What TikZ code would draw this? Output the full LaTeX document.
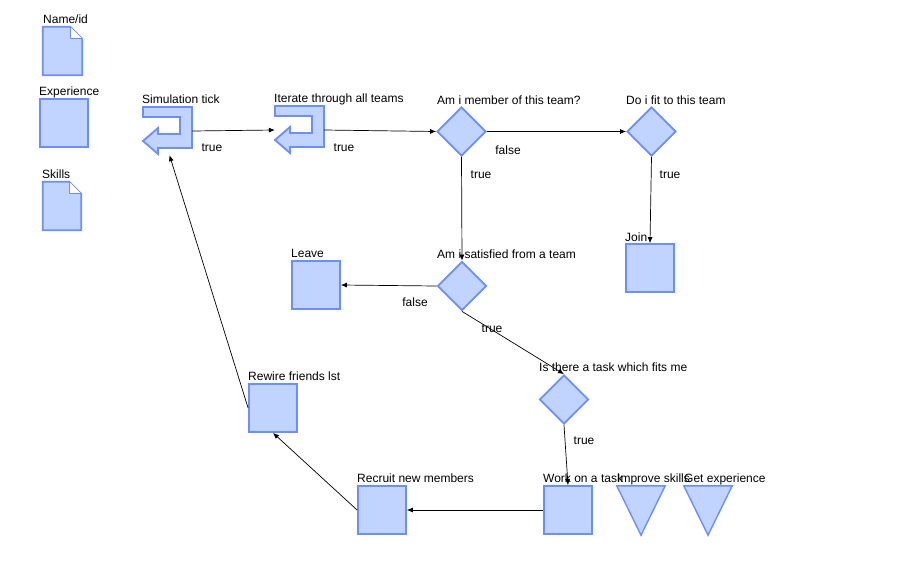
\documentclass[tikz,border=0pt]{standalone}
\usepackage{fontspec}
\setmainfont{Liberation Sans}
\usetikzlibrary{shapes.geometric,arrows.meta}
\definecolor{shfill}{RGB}{193,212,255}
\definecolor{shline}{RGB}{108,142,255}
\begin{document}
\begin{tikzpicture}[x=1pt,y=-1pt,
  font=\fontsize{12}{14}\selectfont,
  shapebase/.style={fill=shfill,draw=shline,line width=1.8pt,line join=miter},
  sqbox/.style={shapebase,rectangle,minimum width=48pt,minimum height=48pt,inner sep=0pt},
  dmd/.style={shapebase,diamond,minimum width=49pt,minimum height=49pt,inner sep=0pt},
  ghost/.style={rectangle,inner sep=0pt,draw=none},
  lbl/.style={anchor=base west,inner sep=0pt},
  elbl/.style={inner sep=0pt},
  conn/.style={draw=black,line width=0.7pt,-{Latex[length=6pt,width=5pt]}}
]
\useasboundingbox[fill=white] (0,0) rectangle (923,576);

% documents and squares on the left
\node[ghost,minimum width=39pt,minimum height=48pt] (nameid) at (62.5,51) {};
\draw[shapebase] (nameid.north west) -- ([xshift=-12pt]nameid.north east) -- ([yshift=-12pt]nameid.north east) -- (nameid.south east) -- (nameid.south west) -- cycle;
\draw[shapebase,fill=white,line width=1pt] ([xshift=-12pt]nameid.north east) -- ([xshift=-12pt,yshift=-12pt]nameid.north east) -- ([yshift=-12pt]nameid.north east);
\node[lbl] (nameidl) at (43,23) {Name/id};

\node[sqbox] (exper) at (64,123) {};
\node[lbl] (experl) at (39,95) {Experience};

\node[ghost,minimum width=38pt,minimum height=48pt] (skills) at (62,206) {};
\draw[shapebase] (skills.north west) -- ([xshift=-12pt]skills.north east) -- ([yshift=-12pt]skills.north east) -- (skills.south east) -- (skills.south west) -- cycle;
\draw[shapebase,fill=white,line width=1pt] ([xshift=-12pt]skills.north east) -- ([xshift=-12pt,yshift=-12pt]skills.north east) -- ([yshift=-12pt]skills.north east);
\node[lbl] (skillsl) at (42,178) {Skills};

% U-turn arrows
\node[ghost,minimum width=49pt,minimum height=48pt] (simtick) at (167.5,131) {};
\draw[shapebase] (143,107) -- (192,107) -- (192,148) -- (158,148) -- (158,154) -- (143,141) -- (158,128) -- (158,134) -- (180,134) -- (180,117) -- (143,117) -- cycle;
\node[lbl] (simtickl) at (142,103) {Simulation tick};

\node[ghost,minimum width=49pt,minimum height=48pt] (iter) at (299.5,130) {};
\draw[shapebase] (275,106) -- (324,106) -- (324,147) -- (290,147) -- (290,153) -- (275,140) -- (290,127) -- (290,133) -- (312,133) -- (312,116) -- (275,116) -- cycle;
\node[lbl] (iterl) at (274,102) {Iterate through all teams};

% diamonds
\node[dmd] (member) at (461.5,131.5) {};
\node[lbl] (memberl) at (437,104) {Am i member of this team?};
\node[dmd] (fit) at (651.5,131.5) {};
\node[lbl] (fitl) at (626,104) {Do i fit to this team};
\node[dmd] (satis) at (462,286) {};
\node[lbl] (satisl) at (437,258) {Am i satisfied from a team};
\node[dmd] (task) at (564,399.5) {};
\node[lbl] (taskl) at (539,371) {Is there a task which fits me};

% squares
\node[sqbox] (join) at (650,268) {};
\node[lbl] (joinl) at (625,241) {Join};
\node[sqbox] (leave) at (316,285) {};
\node[lbl] (leavel) at (291,257) {Leave};
\node[sqbox] (work) at (568,510) {};
\node[lbl] (workl) at (543,482) {Work on a task};
\node[sqbox] (recruit) at (382,510) {};
\node[lbl] (recruitl) at (357,482) {Recruit new members};
\node[sqbox] (rewire) at (273,408) {};
\node[lbl] (rewirel) at (248,380) {Rewire friends lst};

% triangles
\node[ghost,minimum width=48pt,minimum height=49pt] (improve) at (641,510.5) {};
\draw[shapebase,line width=1.4pt] (improve.north west) -- (improve.north east) -- (improve.south) -- cycle;
\node[lbl] (improvel) at (617,482) {Improve skills};
\node[ghost,minimum width=48pt,minimum height=49pt] (getexp) at (708,510.5) {};
\draw[shapebase,line width=1.4pt] (getexp.north west) -- (getexp.north east) -- (getexp.south) -- cycle;
\node[lbl] (getexpl) at (684,482) {Get experience};

% connectors
\draw[conn] (simtick.east) -- (iter.west);
\draw[conn] (iter.east) -- (member.west);
\draw[conn] (member.east) -- (fit.west);
\draw[conn] (member.south) -- (satis.north);
\draw[conn] (fit.south) -- (join.north);
\draw[conn] (satis.west) -- (leave.east);
\draw[conn] (satis.south) -- (task.north);
\draw[conn] (task.south) -- (work.north);
\draw[conn] (work.west) -- (recruit.east);
\draw[conn] (recruit.west) -- (rewire.south);
\draw[conn] (rewire.west) -- ([xshift=2pt]simtick.south);

% edge labels
\node[elbl] (t1) at (212,148) {true};
\node[elbl] (t2) at (344,148) {true};
\node[elbl] (f1) at (508,150) {false};
\node[elbl] (t3) at (481,175) {true};
\node[elbl] (t4) at (670,175) {true};
\node[elbl] (f2) at (415,302) {false};
\node[elbl] (t5) at (492,329) {true};
\node[elbl] (t6) at (584,441) {true};
\end{tikzpicture}
\end{document}
